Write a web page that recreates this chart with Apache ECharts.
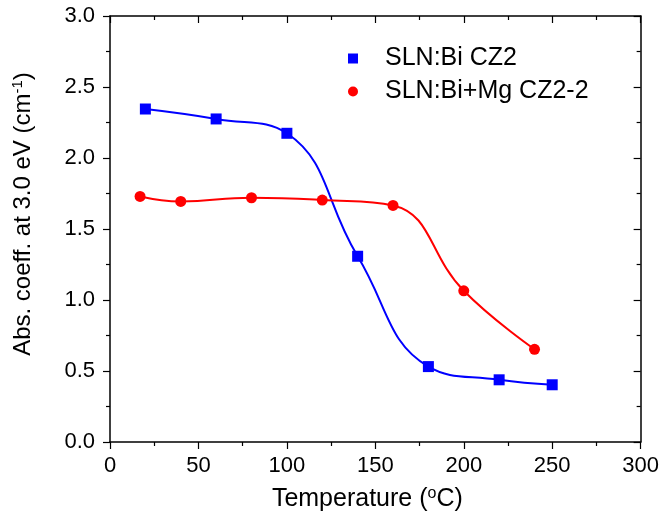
<!DOCTYPE html>
<html><head><meta charset="utf-8">
<script src="https://cdn.jsdelivr.net/npm/echarts@6/dist/echarts.min.js"></script>
<style>html,body{margin:0;padding:0;background:#fff}#c{width:662px;height:519px}</style>
</head><body><div id="c"></div>
<script>
const seriesNames = ['SLN:Bi CZ2', 'SLN:Bi+Mg CZ2-2'];
const blueX = [20, 60, 100, 140, 180, 220, 250];
const blueY = [2.345, 2.275, 2.174, 1.308, 0.531, 0.438, 0.403];
const redX = [17, 40, 80, 120, 160, 200, 240];
const redY = [1.729, 1.694, 1.720, 1.704, 1.666, 1.065, 0.653];
const xTicks = [0, 50, 100, 150, 200, 250, 300];
const yTicks = [0.0, 0.5, 1.0, 1.5, 2.0, 2.5, 3.0];

const font = '"Liberation Sans", Arial, sans-serif';
const chart = echarts.init(document.getElementById('c'));
const axisLine = {show: true, onZero: false, lineStyle: {color: '#000', width: 1.5}};
function baseAxis(ticks, extra) {
  return Object.assign({
    type: 'value', min: ticks[0], max: ticks[ticks.length - 1],
    interval: ticks[1] - ticks[0],
    axisLine: axisLine, splitLine: {show: false},
    minorTick: {show: true, splitNumber: 2, length: 4, lineStyle: {color: '#000', width: 1.2}},
    axisTick: {show: true, length: 7, lineStyle: {color: '#000', width: 1.2}}
  }, extra);
}
const supRich = (size) => ({
  n: {fontFamily: font, fontSize: size, color: '#000'},
  s: {fontFamily: font, fontSize: Math.round(size * 0.62), color: '#000', verticalAlign: 'top', padding: [0, 0, Math.round(size * 0.45), 0]}
});
chart.setOption({
  animation: false,
  backgroundColor: '#fff',
  grid: {left: 110, right: 20, top: 16, bottom: 77, containLabel: false},
  legend: {
    orient: 'vertical', left: 348, top: 46, itemGap: 8, padding: 0,
    itemWidth: 10, itemHeight: 10,
    textStyle: {fontFamily: font, fontSize: 25, color: '#000', padding: [0, 0, 0, 22]},
    data: [{name: seriesNames[0], icon: 'rect'}, {name: seriesNames[1], icon: 'circle'}]
  },
  xAxis: [
    baseAxis(xTicks, {
      position: 'bottom',
      name: '{n|Temperature (}{s|o}{n|C)}', nameLocation: 'middle', nameGap: 44,
      nameTextStyle: {rich: supRich(25), padding: [0, 16, 0, 0]},
      axisLabel: {fontFamily: font, fontSize: 22, color: '#000', margin: 13}
    }),
    baseAxis(xTicks, {
      position: 'top', axisLabel: {show: false},
      axisTick: {show: true, inside: true, length: 7, lineStyle: {color: '#000', width: 1.2}},
      minorTick: {show: true, splitNumber: 2, length: 4, lineStyle: {color: '#000', width: 1.2}}
    })
  ],
  yAxis: [
    baseAxis(yTicks, {
      position: 'left',
      name: '{n|Abs. coeff. at 3.0 eV (cm}{s|-1}{n|)}', nameLocation: 'middle', nameGap: 74,
      nameTextStyle: {rich: supRich(24), padding: [0, 0, 0, 30]},
      axisLabel: {fontFamily: font, fontSize: 22, color: '#000', margin: 15,
        formatter: v => v.toFixed(1)}
    }),
    baseAxis(yTicks, {
      position: 'right', axisLabel: {show: false},
      axisTick: {show: true, inside: true, length: 7, lineStyle: {color: '#000', width: 1.2}},
      minorTick: {show: true, splitNumber: 2, length: 4, lineStyle: {color: '#000', width: 1.2}}
    })
  ],
  series: [
    {
      name: seriesNames[0], type: 'line', smooth: 0.45,
      data: blueX.map((x, i) => [x, blueY[i]]),
      symbol: 'rect', symbolSize: 11,
      itemStyle: {color: '#0000ff'}, lineStyle: {color: '#0000ff', width: 2}
    },
    {
      name: seriesNames[1], type: 'line', smooth: 0.45,
      data: redX.map((x, i) => [x, redY[i]]),
      symbol: 'circle', symbolSize: 11,
      itemStyle: {color: '#ff0000'}, lineStyle: {color: '#ff0000', width: 2}
    }
  ]
});
</script></body></html>
